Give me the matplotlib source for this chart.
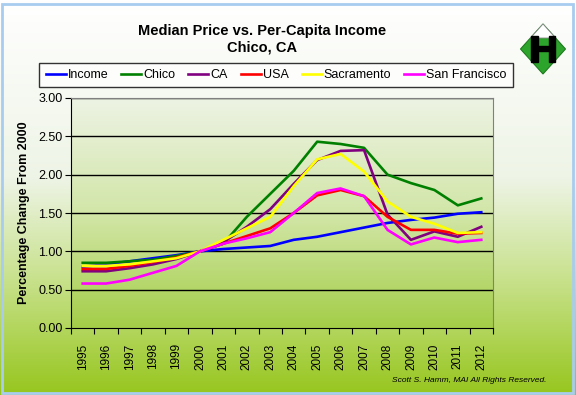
import numpy as np
import matplotlib
matplotlib.use("Agg")
import matplotlib.pyplot as plt
from matplotlib.colors import LinearSegmentedColormap
from matplotlib.patches import Polygon, Rectangle

plt.rcParams['font.family'] = ['Liberation Sans', 'DejaVu Sans']

years = [str(y) for y in range(1995, 2013)]
income = [0.80, 0.83, 0.87, 0.91, 0.95, 1.00, 1.03, 1.05, 1.07, 1.15, 1.19, 1.25, 1.31, 1.37, 1.41, 1.44, 1.49, 1.51]
chico = [0.85, 0.85, 0.87, 0.89, 0.94, 1.00, 1.10, 1.45, 1.75, 2.05, 2.43, 2.40, 2.35, 2.00, 1.89, 1.80, 1.60, 1.69]
ca = [0.74, 0.74, 0.78, 0.83, 0.90, 1.00, 1.12, 1.32, 1.55, 1.88, 2.19, 2.31, 2.32, 1.48, 1.15, 1.26, 1.19, 1.32]
usa = [0.77, 0.77, 0.81, 0.86, 0.92, 1.00, 1.10, 1.20, 1.30, 1.50, 1.73, 1.80, 1.72, 1.45, 1.28, 1.28, 1.23, 1.24]
sacramento = [0.81, 0.81, 0.83, 0.87, 0.91, 1.00, 1.15, 1.30, 1.45, 1.85, 2.20, 2.27, 2.04, 1.65, 1.45, 1.36, 1.24, 1.25]
san_francisco = [0.58, 0.58, 0.63, 0.72, 0.81, 1.00, 1.10, 1.17, 1.25, 1.50, 1.76, 1.82, 1.72, 1.28, 1.09, 1.18, 1.12, 1.15]

series = [("Income", income, "#0000FF"),
          ("Chico", chico, "#008000"),
          ("CA", ca, "#800080"),
          ("USA", usa, "#FF0000"),
          ("Sacramento", sacramento, "#FFFF00"),
          ("San Francisco", san_francisco, "#FF00FF")]

W, H = 576, 395
fig = plt.figure(figsize=(W / 100, H / 100), dpi=100)

# figure background gradient
bg = fig.add_axes([0, 0, 1, 1], zorder=-10)
bg_cmap = LinearSegmentedColormap.from_list("bg", [(0, "#FFFFFF"), (0.45, "#EEF4E6"), (0.7, "#C9E28F"), (1, "#97C61E")])
bg.imshow(np.linspace(0, 1, 256).reshape(-1, 1), aspect='auto', cmap=bg_cmap, extent=[0, 1, 0, 1])
bg.add_patch(Rectangle((0.004, 0.006), 0.990, 0.985, fill=False, edgecolor="#A8CCF0", lw=2, transform=bg.transAxes))
bg.set_xlim(0, 1); bg.set_ylim(0, 1)
bg.axis('off')

left, right, top, bottom = 71, 493, 98, 328
ax = fig.add_axes([left / W, 1 - bottom / H, (right - left) / W, (bottom - top) / H])
pa_cmap = LinearSegmentedColormap.from_list("pa", [(0, "#EDF3E4"), (0.5, "#D2E6A8"), (1, "#A4CE48")])
ax.imshow(np.linspace(0, 1, 256).reshape(-1, 1), aspect='auto', cmap=pa_cmap,
          extent=[-0.5, len(years) - 0.5, 0, 3], zorder=0)

x = np.arange(len(years))
for name, vals, col in series:
    ax.plot(x, vals, color=col, lw=1.9, label=name, zorder=3, solid_joinstyle='round')

ax.set_xlim(-0.5, len(years) - 0.5)
ax.set_ylim(0, 3)
ax.set_yticks(np.arange(0, 3.01, 0.5))
ax.set_yticklabels([f"{v:.2f}" for v in np.arange(0, 3.01, 0.5)], fontsize=9)
for v in np.arange(0.5, 3.01, 0.5):
    ax.axhline(v, color="black", lw=1, zorder=1)
ax.set_xticks(np.arange(-0.5, len(years), 1))
ax.set_xticklabels([])
ax.set_xticks(x, minor=True)
ax.set_xticklabels(years, minor=True, rotation=90, fontsize=8.5)
ax.tick_params(axis='x', which='minor', length=0, pad=11)
ax.tick_params(axis='x', which='major', length=4, direction='out', color='black')
ax.tick_params(axis='y', length=4, direction='out', pad=2)
for s in ['top', 'right']:
    ax.spines[s].set_color('#808080')
for s in ['left', 'bottom']:
    ax.spines[s].set_color('black')
ax.set_ylabel("Percentage Change From 2000", fontsize=9, fontweight='bold', labelpad=6)

leg = fig.legend(loc='center', bbox_to_anchor=(276 / W, 1 - 75 / H), ncol=6, fontsize=9,
                 handlelength=1.6, handletextpad=0.15, columnspacing=1.05,
                 frameon=True, fancybox=False, edgecolor='black', borderpad=0.5,
                 borderaxespad=0)
leg.get_frame().set_linewidth(1.0)
leg.get_frame().set_facecolor('white')

fig.text(262 / W, 1 - 31 / H, "Median Price vs. Per-Capita Income", ha='center', va='center',
         fontsize=10.5, fontweight='bold')
fig.text(262 / W, 1 - 48 / H, "Chico, CA", ha='center', va='center', fontsize=10.5, fontweight='bold')

fig.text(547 / W, 1 - 381 / H, "Scott S. Hamm, MAI All Rights Reserved.", ha='right', va='center',
         fontsize=6, style='italic')

# logo
lg = fig.add_axes([518 / W, 1 - 76 / H, 50 / W, 54 / H])
lg.set_xlim(-1, 1); lg.set_ylim(-1.08, 1.08)
lg.axis('off')
lg.add_patch(Polygon([[0, -1], [0.9, 0], [0, 1], [-0.9, 0]], closed=True, facecolor="#2DA52D", edgecolor="#1E7A1E", lw=0.8))
lg.add_patch(Polygon([[0, 1], [0.5, 0.44], [-0.5, 0.44]], closed=True, facecolor="white", edgecolor="#888888", lw=0.6))
lg.add_patch(Rectangle((-0.48, -0.5), 0.26, 1.02, color='black'))
lg.add_patch(Rectangle((0.22, -0.5), 0.26, 1.02, color='black'))
lg.add_patch(Rectangle((-0.3, -0.06), 0.6, 0.2, color='black'))

fig.savefig("out.png", dpi=100)
